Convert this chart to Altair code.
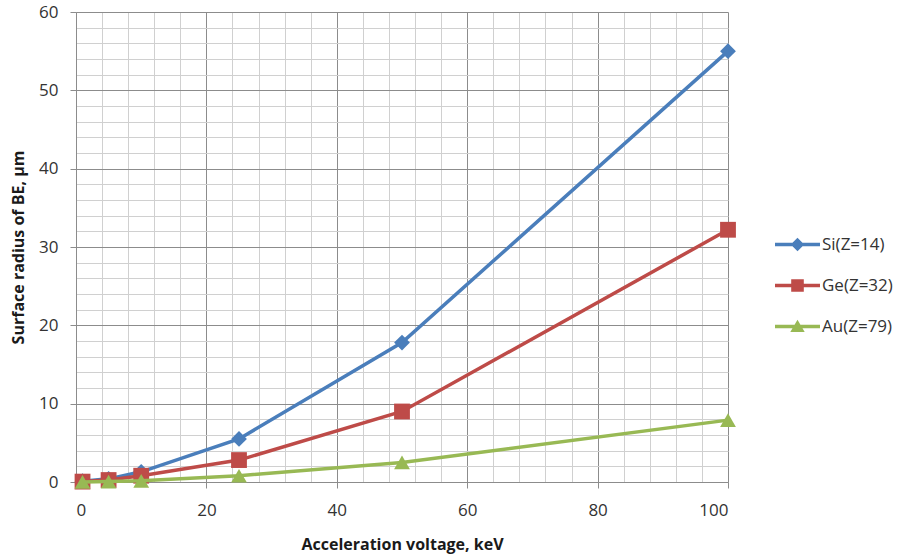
import altair as alt
import pandas as pd

voltage = [1, 5, 10, 25, 50, 100]
si = [0.1, 0.4, 1.3, 5.5, 17.8, 55.0]
ge = [0.05, 0.25, 0.8, 2.8, 9.0, 32.2]
au = [0.01, 0.05, 0.15, 0.8, 2.5, 7.9]
series = ["Si(Z=14)", "Ge(Z=32)", "Au(Z=79)"]
colors = ["#4A7EBB", "#BE4B48", "#98B954"]
shapes = ["diamond", "square", "triangle-up"]

rows = []
for name, vals in zip(series, [si, ge, au]):
    for v, r in zip(voltage, vals):
        rows.append({"voltage": v, "radius": r, "series": name})
df = pd.DataFrame(rows)

legend_paths = [
    "M-1,-0.075H1V0.075H-1Z M0,-0.3L0.3,0L0,0.3L-0.3,0Z",
    "M-1,-0.075H1V0.075H-1Z M-0.28,-0.28H0.28V0.28H-0.28Z",
    "M-1,-0.075H1V0.075H-1Z M0,-0.3L0.32,0.24H-0.32Z",
]
shape_expr = (
    f"datum.value === '{series[0]}' ? '{legend_paths[0]}' : "
    f"datum.value === '{series[1]}' ? '{legend_paths[1]}' : '{legend_paths[2]}'"
)

major_c = "#8C8C8C"
minor_c = "#D0D0D0"
FONT = "Open Sans"

x_enc = alt.X(
    "voltage:Q",
    scale=alt.Scale(domain=[0, 100], nice=False),
    axis=alt.Axis(
        values=list(range(0, 101, 4)),
        labelExpr="datum.value % 20 === 0 ? datum.label : ''",
        gridColor={"condition": {"test": "datum.value % 20 === 0", "value": major_c}, "value": minor_c},
        tickColor={"condition": {"test": "datum.value % 20 === 0", "value": major_c}, "value": "transparent"},
        title="Acceleration voltage, keV",
    ),
)
y_enc = alt.Y(
    "radius:Q",
    scale=alt.Scale(domain=[0, 60], nice=False),
    axis=alt.Axis(
        values=list(range(0, 61, 2)),
        labelExpr="datum.value % 10 === 0 ? datum.label : ''",
        gridColor={"condition": {"test": "datum.value % 10 === 0", "value": major_c}, "value": minor_c},
        tickColor={"condition": {"test": "datum.value % 10 === 0", "value": major_c}, "value": "transparent"},
        title="Surface radius of BE, μm",
    ),
)
color_scale = alt.Scale(domain=series, range=colors)
color_legend = alt.Color(
    "series:N",
    scale=color_scale,
    legend=alt.Legend(
        title=None,
        orient="none",
        legendX=699,
        legendY=210,
        padding=0,
        symbolSize=2025,
        symbolType={"expr": shape_expr},
        symbolStrokeWidth=0,
        symbolOpacity=1,
        labelOffset=2,
        rowPadding=10,
        labelFont=FONT,
        labelFontSize=17,
        labelColor="#333333",
    ),
)

layers = []
for name, shp in zip(series, shapes):
    base = alt.Chart(df).transform_filter(alt.datum.series == name)
    layers.append(
        base.mark_line(strokeWidth=3.5).encode(x=x_enc, y=y_enc, color=color_legend, order="voltage:Q")
    )
    layers.append(
        base.mark_point(shape=shp, size=250, filled=True, opacity=1).encode(
            x=x_enc, y=y_enc, color=color_legend
        )
    )

chart = (
    alt.layer(*layers)
    .properties(
        width=652,
        height=470,
        autosize=alt.AutoSizeParams(type="none"),
        padding={"left": 76, "top": 12, "right": 179, "bottom": 76},
    )
    .configure_view(stroke=None)
    .configure_axis(
        labelFont=FONT,
        labelFontSize=17,
        labelColor="#333333",
        titleFont=FONT,
        titleFontSize=16,
        titleFontWeight="bold",
        titleColor="#1a1a1a",
        domainColor=major_c,
        tickSize=6,
        gridOpacity=1,
    )
    .configure_axisX(labelPadding=14, titlePadding=18)
    .configure_axisY(labelPadding=12, titlePadding=12)
)

chart.save("out.html", embed_options={"renderer": "svg", "actions": False})
